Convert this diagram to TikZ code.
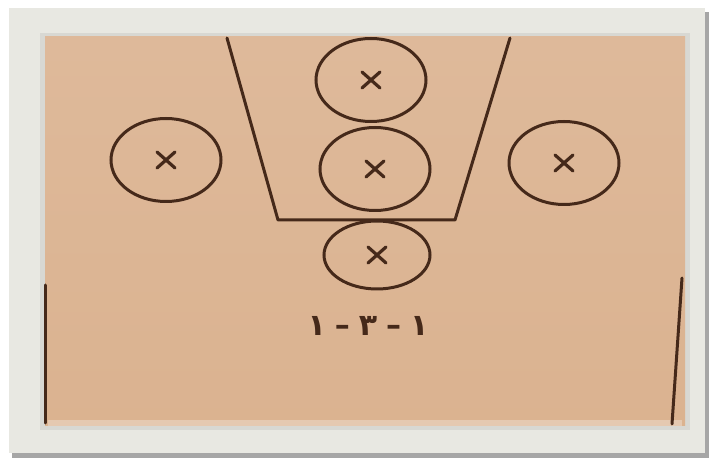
\documentclass[tikz,border=0pt]{standalone}
\usepackage{fontspec}
\newfontfamily\arabicfont[Script=Arabic]{DejaVu Sans}
\TeXXeTstate=1
\usetikzlibrary{shapes.geometric,calc}
\definecolor{paper}{HTML}{DDB797}
\definecolor{frame}{HTML}{E8E8E2}
\definecolor{ink}{HTML}{45291A}
\tikzset{
  player/.style={ellipse, draw=ink, line width=3pt, minimum width=110pt, minimum height=83pt, inner sep=0pt},
  court/.style={draw=ink, line width=3pt, line cap=round, line join=round},
  cross/.style={draw=ink, line width=3.2pt, line cap=round}
}
\newcommand{\crossat}[1]{\draw[cross] ($(#1)+(-9pt,-8pt)$) -- ($(#1)+(9pt,8pt)$) ($(#1)+(-9pt,8pt)$) -- ($(#1)+(9pt,-8pt)$);}
\begin{document}
\begin{tikzpicture}[x=1pt,y=-1pt]
\useasboundingbox (0,0) rectangle (713,462);
\fill[white] (0,0) rectangle (713,462);
% frame with shadow
\fill[gray!70] (12,12) rectangle (709,458);
\fill[frame] (9,8) rectangle (705,453);
\fill[frame!85!gray] (40,33) rectangle (690,430);
% paper
\shade[top color=paper!97!white, bottom color=paper!92!brown] (45,37) rectangle (685,426);
\fill[paper!75!white] (48,420) rectangle (682,426);
% court lines
\draw[court] (227,38) -- (278,220) -- (455,220) -- (510,38);
\draw[court] (45,285) -- (45,423);
\draw[court] (682,278) -- (672,424);
% players
\node[player] (p1) at (371,80) {};
\node[player] (p2) at (375,169) {};
\node[player, minimum width=106pt, minimum height=68pt] (p3) at (377,255) {};
\node[player] (p4) at (166,160) {};
\node[player] (p5) at (564,163) {};
\foreach \p in {p1,p2,p3,p4,p5} {\crossat{\p}}
% label
\node[text=ink, font=\arabicfont\bfseries\fontsize{30}{34}\selectfont] (lbl) at (368,326) {\beginR ١\hspace{9pt}–\hspace{9pt}٣\hspace{9pt}–\hspace{9pt}١\endR};
\end{tikzpicture}
\end{document}
